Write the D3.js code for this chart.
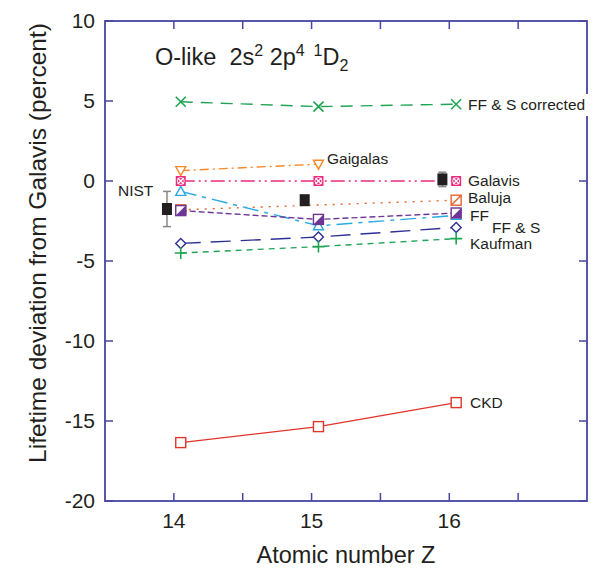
<!DOCTYPE html>
<meta charset="utf-8">
<script src="https://d3js.org/d3.v7.min.js"></script>
<style>
  body { margin: 0; background: #fff; }
  text { font-family: "Liberation Sans", Arial, Helvetica, sans-serif; fill: #231f20; }
</style>
<body>
<div id="chart"></div>
<script>
// values
const zAll = [14, 15, 16];
const ffsCorrected = [4.95, 4.65, 4.8];
const gaigalasZ = [14, 15];
const gaigalas = [0.65, 1.05];
const galavis = [0, 0, 0];
const balujaZ = [14, 16];
const baluja = [-1.8, -1.2];
const ff = [-1.85, -2.4, -2.0];
const ffs = [-0.65, -2.8, -2.15];
const ffsDiamond = [-3.9, -3.5, -2.9];
const kaufman = [-4.5, -4.1, -3.6];
const ckd = [-16.35, -15.35, -13.85];
const nist = [-1.75, -1.2, 0.1];
const nistErr = [1.1, 0.25, 0.45];

const xTicks = [14, 15, 16];
const xMinor = [14.5, 15.5, 16.5];
const yTicks = [10, 5, 0, -5, -10, -15, -20];

const W = 596, H = 571;
const svg = d3.select("#chart").append("svg").attr("width", W).attr("height", H);

const x = d3.scaleLinear().domain([13.5, 17]).range([105, 587]);
const y = d3.scaleLinear().domain([-20, 10]).range([501, 21]);
const shift = 0.05;   // theory points drawn a bit right of Z, NIST a bit left

const frame = "#4646a2";

// ticks inward
const tl = 8;
xTicks.concat(xMinor).forEach(t => {
  svg.append("line").attr("x1", x(t)).attr("x2", x(t)).attr("y1", y(-20)).attr("y2", y(-20) - tl)
    .attr("stroke", frame).attr("stroke-width", 1.5);
  svg.append("line").attr("x1", x(t)).attr("x2", x(t)).attr("y1", y(10)).attr("y2", y(10) + tl)
    .attr("stroke", frame).attr("stroke-width", 1.5);
});
yTicks.forEach(t => {
  svg.append("line").attr("x1", x(13.5)).attr("x2", x(13.5) + tl).attr("y1", y(t)).attr("y2", y(t))
    .attr("stroke", frame).attr("stroke-width", 1.5);
  svg.append("line").attr("x1", x(17)).attr("x2", x(17) - tl).attr("y1", y(t)).attr("y2", y(t))
    .attr("stroke", frame).attr("stroke-width", 1.5);
});
svg.append("rect").attr("x", x(13.5)).attr("y", y(10))
  .attr("width", x(17) - x(13.5)).attr("height", y(-20) - y(10))
  .attr("fill", "none").attr("stroke", frame).attr("stroke-width", 1.8);

// tick labels
svg.selectAll(".xl").data(xTicks).enter().append("text")
  .attr("x", d => x(d)).attr("y", 528).attr("text-anchor", "middle")
  .attr("font-size", 21).text(d => d);
svg.selectAll(".yl").data(yTicks).enter().append("text")
  .attr("x", 95).attr("y", d => y(d) + 7).attr("text-anchor", "end")
  .attr("font-size", 21).text(d => d);

// axis titles
svg.append("text").attr("x", 346).attr("y", 563).attr("text-anchor", "middle")
  .attr("font-size", 23.5).text("Atomic number Z");
svg.append("text").attr("transform", "translate(46,243) rotate(-90)").attr("text-anchor", "middle")
  .attr("font-size", 24.5).text("Lifetime deviation from Galavis (percent)");

// title
const title = svg.append("text").attr("x", 155).attr("y", 65).attr("font-size", 23.5);
title.append("tspan").text("O-like\u00a0\u00a02s");
title.append("tspan").attr("font-size", 16).attr("dy", -9).text("2");
title.append("tspan").attr("dy", 9).text("\u00a02p");
title.append("tspan").attr("font-size", 16).attr("dy", -9).text("4\u00a0\u00a01");
title.append("tspan").attr("dy", 9).text("D");
title.append("tspan").attr("font-size", 16).attr("dy", 6).text("2");

const line = d3.line().x(d => x(d[0] + shift)).y(d => y(d[1]));
function drawLine(zs, vals, color, dash) {
  svg.append("path").datum(zs.map((z, i) => [z, vals[i]]))
    .attr("d", line).attr("fill", "none").attr("stroke", color)
    .attr("stroke-width", 1.4).attr("stroke-dasharray", dash);
}

const s = 5; // marker half size
function markers(zs, vals, draw) {
  zs.forEach((z, i) => {
    const g = svg.append("g").attr("transform", `translate(${x(z + shift)},${y(vals[i])})`);
    draw(g);
  });
}

// lines
const green = "#1ea553", orange = "#f58a2a", oRed = "#e6632d", pink = "#ec2a7c",
      cyan = "#2aaae2", purple = "#6d3596", navy = "#2e3192", red = "#e0352b";

drawLine(zAll, ffsCorrected, green, "12,8");
drawLine(gaigalasZ, gaigalas, orange, "9,4,2,4");
drawLine(zAll, galavis, pink, "14,4,2,4,2,4");
drawLine(balujaZ, baluja, oRed, "2,6");
drawLine(zAll, ffs, cyan, "16,6,4,6");
drawLine(zAll, ff, purple, "6,3");
drawLine(zAll, ffsDiamond, navy, "20,10");
drawLine(zAll, kaufman, green, "6,5");
drawLine(zAll, ckd, red, null);

// markers
markers(zAll, ffsCorrected, g => {
  g.append("path").attr("d", `M${-s},${-s}L${s},${s}M${-s},${s}L${s},${-s}`)
    .attr("stroke", green).attr("stroke-width", 1.6);
});
markers(gaigalasZ, gaigalas, g => {
  g.append("path").attr("d", `M${-s},${-s + 1}L${s},${-s + 1}L0,${s}Z`)
    .attr("fill", "#fff").attr("stroke", orange).attr("stroke-width", 1.4);
});
markers(balujaZ, baluja, g => {
  g.append("rect").attr("x", -s).attr("y", -s).attr("width", 2 * s).attr("height", 2 * s)
    .attr("fill", "#fff").attr("stroke", oRed).attr("stroke-width", 1.4);
  g.append("path").attr("d", `M${-s},${s}L${s},${-s}`).attr("stroke", oRed).attr("stroke-width", 1.4);
});
markers(zAll, ffs, g => {
  g.append("path").attr("d", `M0,${-s}L${s},${s - 1}L${-s},${s - 1}Z`)
    .attr("fill", "#fff").attr("stroke", cyan).attr("stroke-width", 1.4);
});
markers(zAll, ff, g => {
  g.append("rect").attr("x", -s).attr("y", -s).attr("width", 2 * s).attr("height", 2 * s)
    .attr("fill", "#fff").attr("stroke", purple).attr("stroke-width", 1.4);
  g.append("path").attr("d", `M${s},${-s}L${s},${s}L${-s},${s}Z`).attr("fill", purple);
});
markers(zAll, galavis, g => {
  g.append("rect").attr("x", -s).attr("y", -s).attr("width", 2 * s).attr("height", 2 * s)
    .attr("fill", pink);
  g.append("path").attr("d", "M-3,-3L3,3M-3,3L3,-3").attr("stroke", "#fff").attr("stroke-width", 1.1);
  g.append("circle").attr("r", 3.5).attr("fill", "none").attr("stroke", "#fff").attr("stroke-width", 0.9);
});
markers(zAll, ffsDiamond, g => {
  g.append("path").attr("d", `M0,${-s}L${s},0L0,${s}L${-s},0Z`)
    .attr("fill", "#fff").attr("stroke", navy).attr("stroke-width", 1.4);
});
markers(zAll, kaufman, g => {
  g.append("path").attr("d", `M${-s - 1},0L${s + 1},0M0,${-s - 1}L0,${s + 1}`)
    .attr("stroke", green).attr("stroke-width", 1.6);
});
markers(zAll, ckd, g => {
  g.append("rect").attr("x", -s).attr("y", -s).attr("width", 2 * s).attr("height", 2 * s)
    .attr("fill", "#fff").attr("stroke", red).attr("stroke-width", 1.4);
});

// NIST with error bars
zAll.forEach((z, i) => {
  const cx = x(z - shift);
  const g = svg.append("g");
  g.append("line").attr("x1", cx).attr("x2", cx)
    .attr("y1", y(nist[i] + nistErr[i])).attr("y2", y(nist[i] - nistErr[i]))
    .attr("stroke", "#888").attr("stroke-width", 1.5);
  [nist[i] + nistErr[i], nist[i] - nistErr[i]].forEach(v => {
    g.append("line").attr("x1", cx - 4).attr("x2", cx + 4).attr("y1", y(v)).attr("y2", y(v))
      .attr("stroke", "#888").attr("stroke-width", 1.5);
  });
  g.append("rect").attr("x", cx - 5).attr("y", y(nist[i]) - 6).attr("width", 10).attr("height", 12)
    .attr("fill", "#231f20");
});

// series labels
const labels = [
  ["FF & S corrected", 468, 110],
  ["Gaigalas", 327, 164],
  ["NIST", 118, 196],
  ["Galavis", 468, 186],
  ["Baluja", 468, 203],
  ["FF", 470, 221],
  ["FF & S", 492, 233],
  ["Kaufman", 470, 249],
  ["CKD", 470, 408]
];
// the long label sits over the right frame on a white patch
svg.append("rect").attr("x", 466).attr("y", 94).attr("width", 125).attr("height", 22).attr("fill", "#fff");
svg.selectAll(".lab").data(labels).enter().append("text")
  .attr("x", d => d[1]).attr("y", d => d[2]).attr("font-size", 15.5).text(d => d[0]);
</script>
</body>
